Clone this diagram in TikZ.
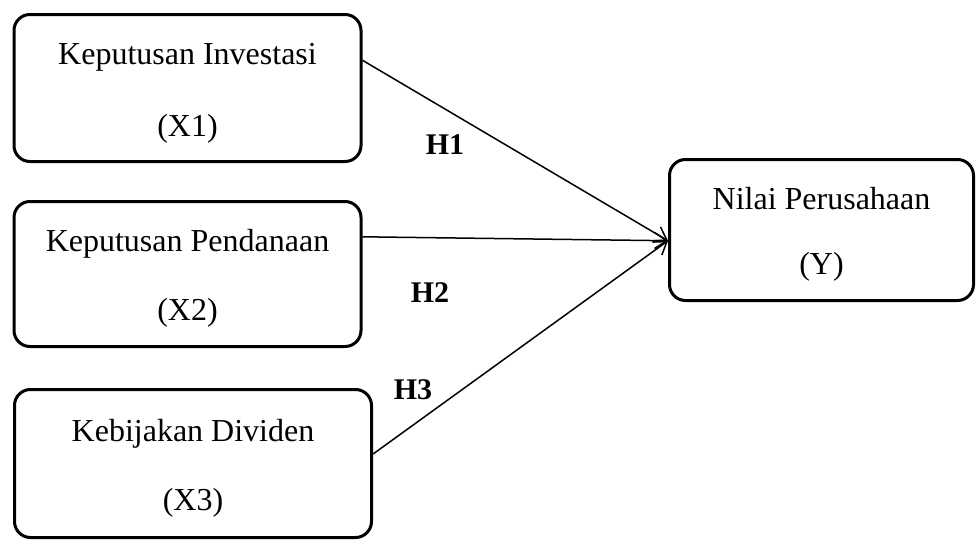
\documentclass[tikz,border=0pt]{standalone}
\usepackage{fontspec}
\setmainfont{Liberation Serif}
\usepackage{tikz}
\usetikzlibrary{arrows.meta}
\newcommand{\varlines}[3][31pt]{\rule{0pt}{31pt}#2\\[#1]#3}

\begin{document}
\begin{tikzpicture}[x=1pt,y=-1pt]
        \useasboundingbox (0,0) rectangle (978,541);
        \tikzset{
          varbox/.style={draw, line width=3pt, rounded corners=16pt, align=center, inner sep=0pt, font=\fontsize{32}{38}\selectfont},
          hyp/.style={-{Straight Barb[length=12pt,width=16pt]}, line width=1.5pt},
          hlabel/.style={draw=none, color=black, font=\bfseries\fontsize{30}{36}\selectfont}
        }
        % boxes
        \node[varbox, minimum width=347pt, minimum height=147pt] (x1) at (187.5,88) {\varlines[34pt]{Keputusan Investasi}{(X1)}};
        \node[varbox, minimum width=347pt, minimum height=145pt] (x2) at (187.5,274) {\varlines{Keputusan Pendanaan}{(X2)}};
        \node[varbox, minimum width=357pt, minimum height=148pt] (x3) at (193,463.5) {\varlines{Kebijakan Dividen}{(X3)}};
        \node[varbox, minimum width=304pt, minimum height=141pt] (y) at (821.5,230) {\varlines[27pt]{Nilai Perusahaan}{(Y)}};

        % arrows
        \draw[hyp] (x1.9) -- (y.184);
        \draw[hyp] (x2.12) -- (y.184);
        \draw[hyp] (x3.3) -- (y.184);

        % Text
        \node[hlabel] (h1) at (445,145) {H1};
        \node[hlabel] (h2) at (430,293) {H2};
        \node[hlabel] (h3) at (413,390) {H3};
\end{tikzpicture}
\end{document}
